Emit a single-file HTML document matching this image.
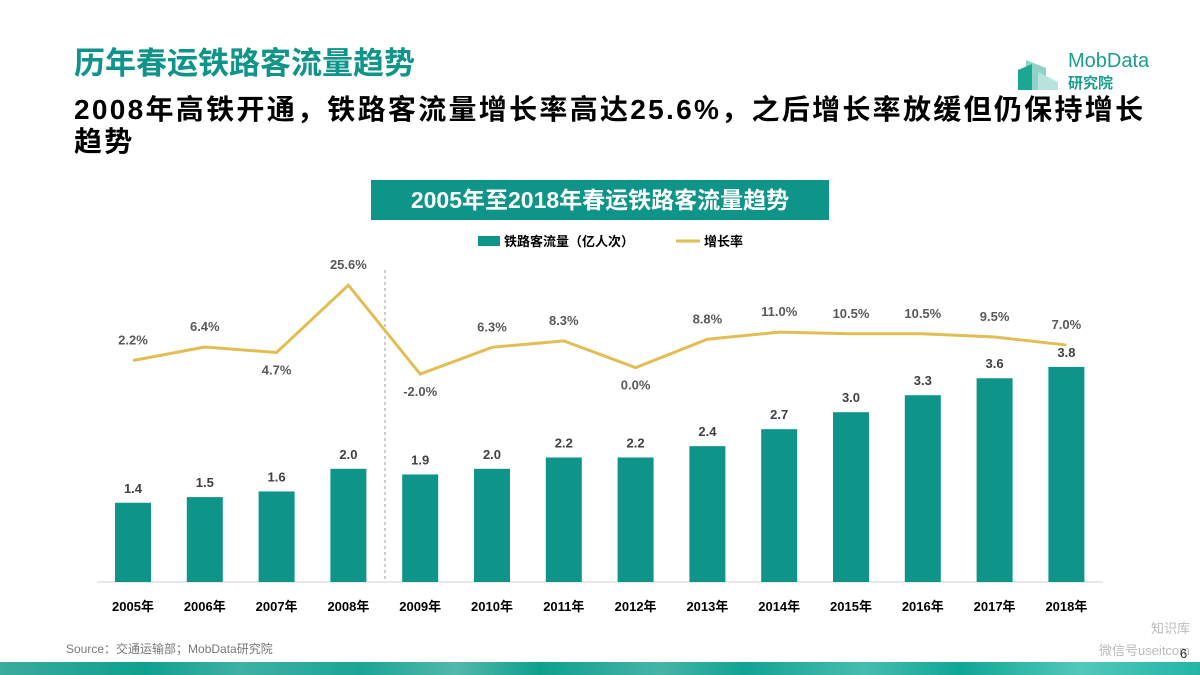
<!DOCTYPE html>
<html><head><meta charset="utf-8"><style>
body{margin:0;width:1200px;height:675px;overflow:hidden;background:#fff;font-family:"Liberation Sans","Noto Sans CJK SC",sans-serif;position:relative}
.abs{position:absolute}
</style></head><body>
<div class="abs" style="left:74px;top:38px;font-size:31px;font-weight:bold;color:#0e9488;">历年春运铁路客流量趋势</div>
<div class="abs" style="left:74px;top:94px;width:1110px;font-size:28px;font-weight:bold;color:#000;line-height:32px;letter-spacing:2.3px;white-space:nowrap">2008年高铁开通，铁路客流量增长率高达25.6%，之后增长率放缓但仍保持增长<br>趋势</div>
<div class="abs" style="left:1018px;top:48px;width:150px;height:45px;">
<svg width="50" height="45" style="position:absolute;left:0;top:0"><polygon points="8,12 28,20 28,42 8,42" fill="#8fd3c8"/><polygon points="0,22 14,16 14,42 0,42" fill="#1aa893"/><polygon points="20,24 40,34 40,42 20,42" fill="#b7e3dc"/></svg>
<div class="abs" style="left:50px;top:2px;font-size:20px;color:#1a9e8e;">MobData</div>
<div class="abs" style="left:50px;top:24px;font-size:15px;color:#1a9e8e;font-weight:bold">研究院</div>
</div>
<div class="abs" style="left:371px;top:180px;width:458px;height:40px;background:#0e9488;color:#fff;font-size:23px;font-weight:bold;text-align:center;line-height:40px;">2005年至2018年春运铁路客流量趋势</div>
<svg class="abs" style="left:0;top:0" width="1200" height="675" id="chart">
<g>
<rect x="478" y="236" width="22" height="10" fill="#0e9488"/>
<text x="504" y="246" font-size="13" font-weight="bold">铁路客流量（亿人次）</text>
<line x1="676" y1="241" x2="700" y2="241" stroke="#e1bd52" stroke-width="3"/>
<text x="704" y="246" font-size="13" font-weight="bold">增长率</text>
</g>
<line x1="97" y1="582" x2="1103" y2="582" stroke="#d0d0d0"/>
<line x1="385" y1="270" x2="385" y2="582" stroke="#999" stroke-dasharray="3,3"/>
<g id="bars"></g><g id="line"></g>
</svg>
<div class="abs" style="left:66px;top:640px;font-size:12px;color:#777;">Source：交通运输部；MobData研究院</div>
<div class="abs" style="left:1090px;top:618px;font-size:13px;color:#bbb;line-height:22px;text-align:right;width:100px">知识库<br>微信号useitcom</div>
<div class="abs" style="left:1180px;top:646px;font-size:13px;color:#333">6</div>
<div class="abs" style="left:0;top:662px;width:1200px;height:13px;background:linear-gradient(90deg,#3aab9e 0%,#0fa08f 12%,#3fb0a4 20%,#1aa596 30%,#52b8ac 38%,#0f9f8e 45%,#45b4a8 55%,#12a392 62%,#47bcb0 72%,#10a695 80%,#52c8bb 90%,#22b5a6 100%)"></div>
<script>
const years=["2005年","2006年","2007年","2008年","2009年","2010年","2011年","2012年","2013年","2014年","2015年","2016年","2017年","2018年"];
const volume=[1.4,1.5,1.6,2.0,1.9,2.0,2.2,2.2,2.4,2.7,3.0,3.3,3.6,3.8];
const growth=[2.2,6.4,4.7,25.6,-2.0,6.3,8.3,0.0,8.8,11.0,10.5,10.5,9.5,7.0];
const below=[false,false,true,false,true,false,false,true,false,false,false,false,false,false];
const NS="http://www.w3.org/2000/svg";
const xs=i=>133+i*71.8;
const yb=v=>582-v*56.6;
const yl=v=>367.6-v*3.22;
const bars=document.getElementById('bars'),line=document.getElementById('line');
function mk(t,a,p){const e=document.createElementNS(NS,t);for(const k in a)e.setAttribute(k,a[k]);p.appendChild(e);return e;}
years.forEach((y,i)=>{
 const r=mk('rect',{x:xs(i)-18,y:yb(volume[i]),width:36,height:582-yb(volume[i]),fill:'#0e9488'},bars);
 
 
 const t=mk('text',{x:xs(i),y:yb(volume[i])-10,'text-anchor':'middle','font-size':13,'font-weight':'bold',fill:'#404040'},bars);t.textContent=volume[i].toFixed(1);
 
 
 const xl=mk('text',{x:xs(i),y:611,'text-anchor':'middle','font-size':13,'font-weight':'bold',fill:'#000'},bars);xl.textContent=y;
 
 
 const g=mk('text',{x:xs(i),y:below[i]?yl(growth[i])+22:yl(growth[i])-16,'text-anchor':'middle','font-size':13,'font-weight':'bold',fill:'#595959'},line);g.textContent=growth[i].toFixed(1)+'%';
 
 
});
const p=mk('polyline',{points:growth.map((v,i)=>xs(i)+','+yl(v)).join(' '),fill:'none',stroke:'#e1bd52','stroke-width':3},line);


</script>
</body></html>
